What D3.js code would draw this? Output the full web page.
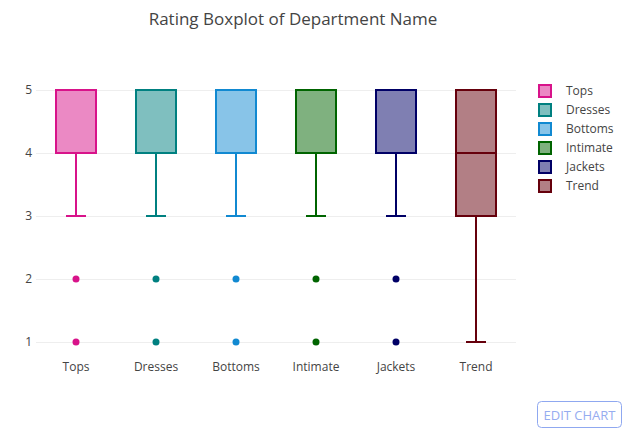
<!DOCTYPE html>
<html>
<head>
<meta charset="utf-8">
<script src="https://cdn.jsdelivr.net/npm/d3@7"></script>
<style>
  html, body { margin: 0; padding: 0; background: #fff; }
  svg { display: block; font-family: "Open Sans", sans-serif; }
</style>
</head>
<body>
<svg id="chart" width="625" height="433"></svg>
<script>
const categories = ["Tops", "Dresses", "Bottoms", "Intimate", "Jackets", "Trend"];
const lowerWhisker = [3, 3, 3, 3, 3, 1];
const q1 = [4, 4, 4, 4, 4, 3];
const median = [5, 5, 5, 5, 5, 4];
const q3 = [5, 5, 5, 5, 5, 5];
const upperWhisker = [5, 5, 5, 5, 5, 5];
const outliers = [[1, 2], [1, 2], [1, 2], [1, 2], [1, 2], []];
const colors = ["#d8138a", "#008080", "#1189d1", "#006400", "#000066", "#66000c"];
const yTicks = [1, 2, 3, 4, 5];

const svg = d3.select("#chart");
const plot = { left: 36, right: 516, top: 80, bottom: 352 };

const x = d3.scaleBand().domain(categories).range([plot.left, plot.right]).padding(0);
const y = d3.scaleLinear().domain([1, 5]).range([342, 90]);

// title
svg.append("text")
  .attr("x", 293).attr("y", 25)
  .attr("text-anchor", "middle")
  .attr("font-size", 17).attr("fill", "#444")
  .text("Rating Boxplot of Department Name");

// gridlines + y ticks
const yAxis = d3.axisLeft(y).tickValues(yTicks).tickSize(-(plot.right - plot.left)).tickPadding(4).tickFormat(d3.format("d"));
const gy = svg.append("g").attr("transform", `translate(${plot.left},0)`).call(yAxis);
gy.select(".domain").remove();
gy.selectAll(".tick line").attr("stroke", "#eee").attr("stroke-width", 1);
gy.selectAll(".tick text").attr("fill", "#444").attr("font-size", 12).attr("font-family", "Open Sans, sans-serif").attr("x", -4);

// x axis labels
const xAxis = d3.axisBottom(x).tickSize(0).tickPadding(0);
const gx = svg.append("g").attr("transform", `translate(0,${362})`).call(xAxis);
gx.select(".domain").remove();
gx.selectAll(".tick text").attr("fill", "#444").attr("font-size", 12).attr("font-family", "Open Sans, sans-serif").attr("dy", "0.71em");

// boxes
const bw = x.bandwidth() * 0.5;
const cw = bw * 0.5;
const g = svg.append("g");
categories.forEach((c, i) => {
  const cx = x(c) + x.bandwidth() / 2;
  const col = colors[i];
  const grp = g.append("g");
  grp.append("line").attr("x1", cx).attr("x2", cx).attr("y1", y(q1[i])).attr("y2", y(lowerWhisker[i]))
    .attr("stroke", col).attr("stroke-width", 2);
  grp.append("line").attr("x1", cx - cw / 2).attr("x2", cx + cw / 2).attr("y1", y(lowerWhisker[i])).attr("y2", y(lowerWhisker[i]))
    .attr("stroke", col).attr("stroke-width", 2);
  grp.append("line").attr("x1", cx).attr("x2", cx).attr("y1", y(q3[i])).attr("y2", y(upperWhisker[i]))
    .attr("stroke", col).attr("stroke-width", 2);
  if (upperWhisker[i] > q3[i]) {
    grp.append("line").attr("x1", cx - cw / 2).attr("x2", cx + cw / 2).attr("y1", y(upperWhisker[i])).attr("y2", y(upperWhisker[i]))
      .attr("stroke", col).attr("stroke-width", 2);
  }
  grp.append("rect").attr("x", cx - bw / 2).attr("width", bw)
    .attr("y", y(q3[i])).attr("height", y(q1[i]) - y(q3[i]))
    .attr("fill", col).attr("fill-opacity", 0.5)
    .attr("stroke", col).attr("stroke-width", 2);
  grp.append("line").attr("x1", cx - bw / 2).attr("x2", cx + bw / 2).attr("y1", y(median[i])).attr("y2", y(median[i]))
    .attr("stroke", col).attr("stroke-width", 2);
  grp.selectAll("circle").data(outliers[i]).join("circle")
    .attr("cx", cx).attr("cy", d => y(d)).attr("r", 3.5).attr("fill", col);
});

// legend
const lg = svg.append("g");
categories.forEach((c, i) => {
  const ly = 91 + i * 19;
  lg.append("rect").attr("x", 539).attr("y", ly - 6).attr("width", 12).attr("height", 12)
    .attr("fill", colors[i]).attr("fill-opacity", 0.5).attr("stroke", colors[i]).attr("stroke-width", 2);
  lg.append("text").attr("x", 566).attr("y", ly).attr("dy", "0.35em")
    .attr("font-size", 12).attr("fill", "#444").text(c);
});

// edit chart button
svg.append("rect").attr("x", 537.5).attr("y", 401.5).attr("width", 84).attr("height", 26).attr("rx", 4)
  .attr("fill", "#fff").attr("stroke", "#8fa8f0").attr("stroke-width", 1);
svg.append("text").attr("x", 579.5).attr("y", 419.5).attr("text-anchor", "middle")
  .attr("font-size", 13).attr("fill", "#96acf0").text("EDIT CHART");
</script>
</body>
</html>
